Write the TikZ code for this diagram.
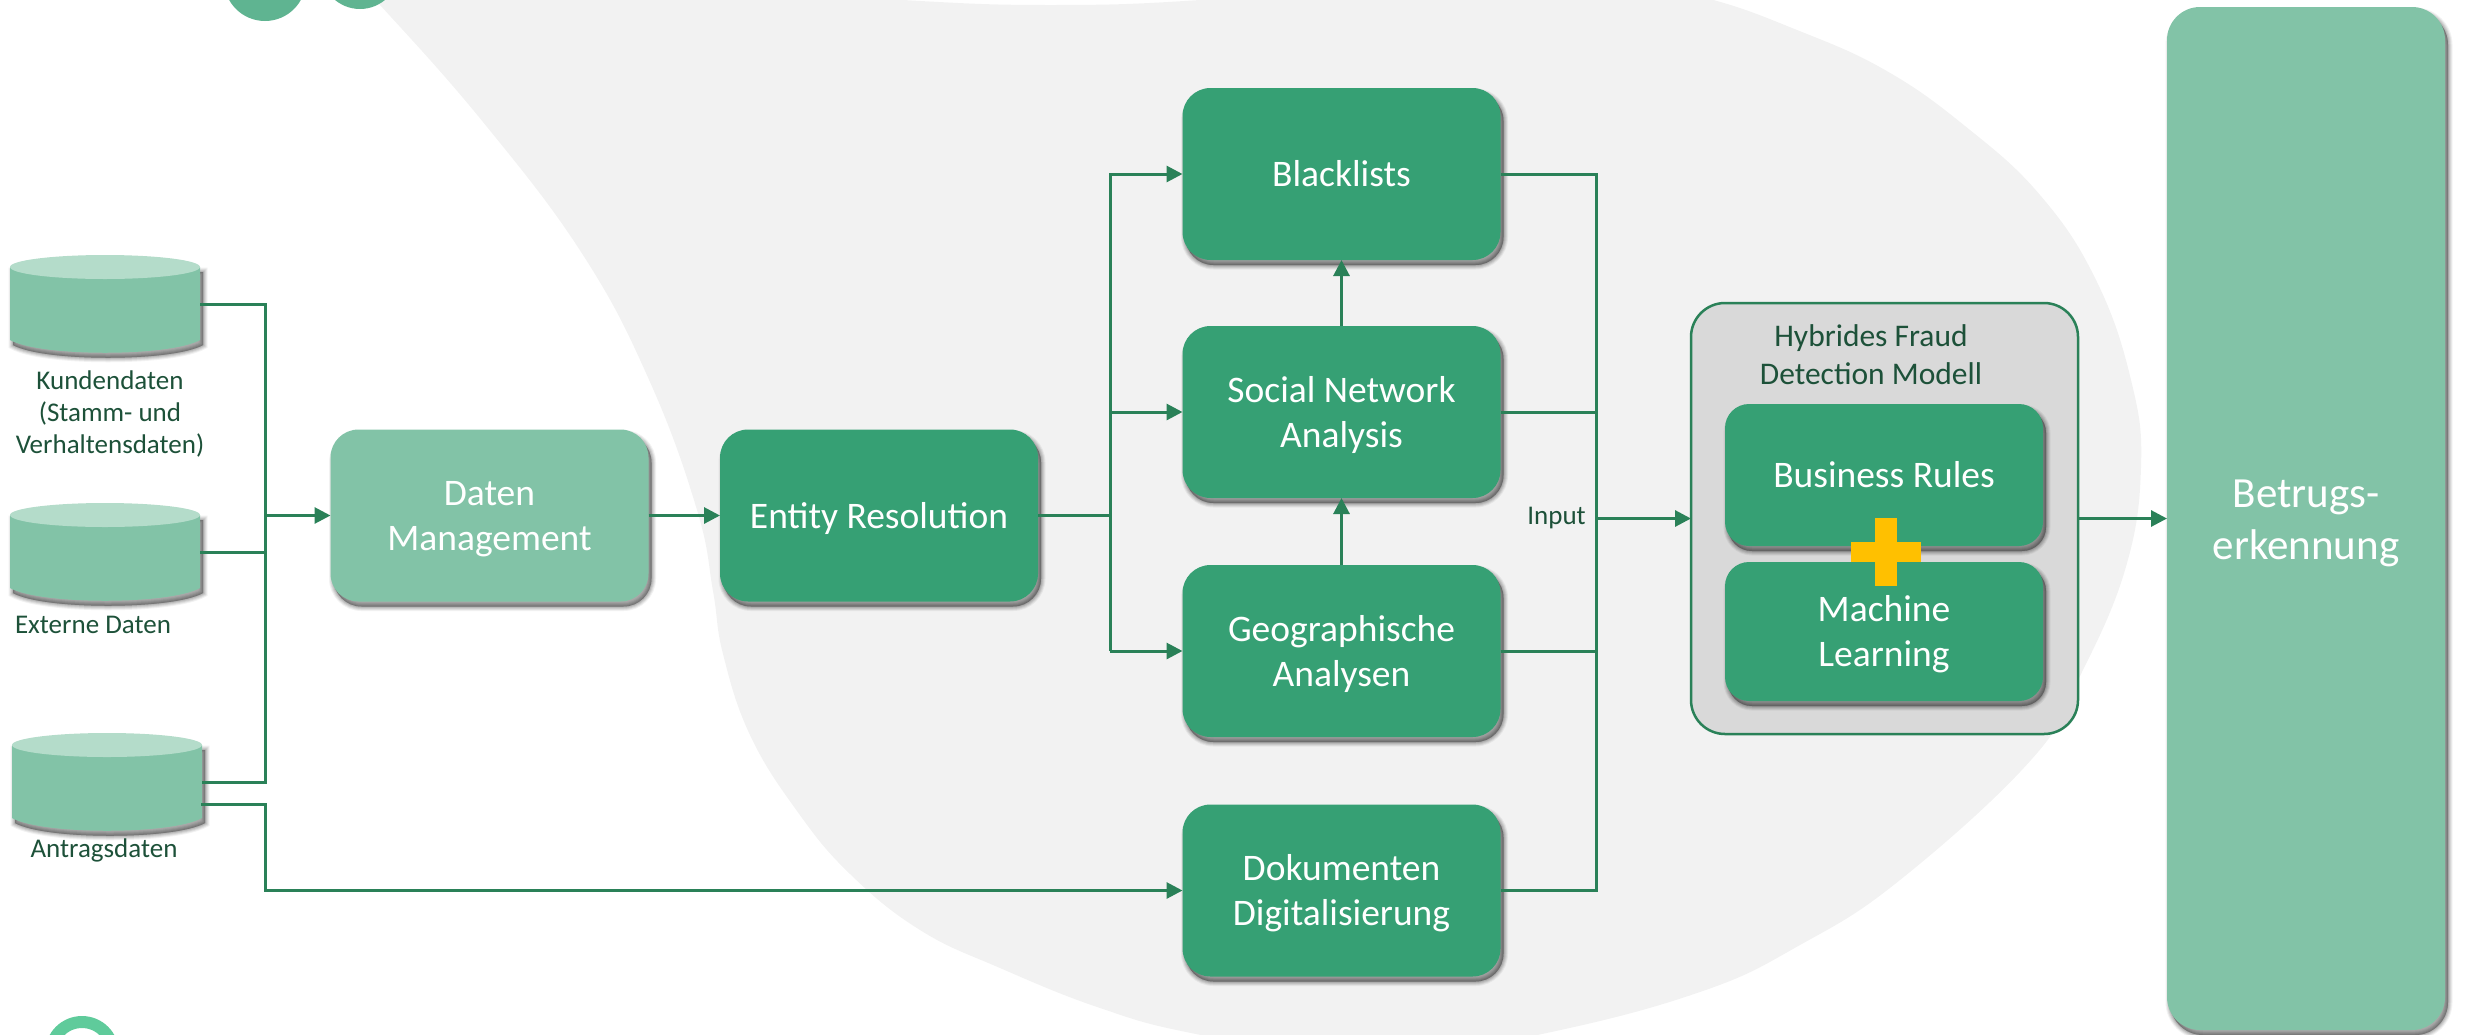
\documentclass[tikz,border=0pt]{standalone}
\usepackage{fontspec}
\setmainfont{Carlito}
\usetikzlibrary{arrows.meta,calc}
\definecolor{bluegrey}{HTML}{F2F2F2}
\definecolor{boxgreen}{HTML}{36A074}
\definecolor{lightgreen}{HTML}{82C3A7}
\definecolor{topgreen}{HTML}{B4DCCA}
\definecolor{linegreen}{HTML}{2A8158}
\definecolor{darktext}{HTML}{1D5139}
\definecolor{hybridgrey}{HTML}{D9D9D9}
\definecolor{plusyellow}{HTML}{FFC000}
\definecolor{circtop}{HTML}{5FB491}
\definecolor{circbot}{HTML}{5FCB9B}
\tikzset{
  x=1pt,y=-1pt,
  shlayer/.style 2 args={preaction={draw=black,fill=black,draw opacity=#2,fill opacity=#2,line width=#1,transform canvas={shift={(3pt,-5pt)}}}},
  softshadow/.style={shlayer={9pt}{.05},shlayer={7pt}{.07},shlayer={5pt}{.08},shlayer={3pt}{.09},shlayer={1pt}{.10}},
  darkbox/.style={softshadow,fill=boxgreen,rounded corners=28pt,minimum width=318pt,minimum height=172pt,inner sep=0pt,outer sep=0pt,align=center,text=white,font=\fontsize{37.5}{45}\selectfont,text height=25pt,text depth=0pt},
  twolines/.style={text height=70pt,text depth=0pt},
  lightbox/.style={darkbox,fill=lightgreen},
  innerbox/.style={darkbox,minimum width=318pt,rounded corners=24pt},
  lbl/.style={text=darktext,align=center,inner sep=0pt,font=\fontsize{27}{32}\selectfont},
  conn/.style={draw=linegreen,line width=3pt,line join=miter},
  arr/.style={conn,-{Triangle[length=16pt,width=16pt]}},
  dbanchor/.style={minimum width=190pt,minimum height=98pt,inner sep=0pt,outer sep=0pt},
  dbshade/.style={draw=black,fill=black,transform canvas={shift={(3pt,-5pt)}}}
}
\newcommand{\dbbody}[2]{(#1,#2+12) -- (#1,#2+85) .. controls (#1+30,#2+102) and (#1+160,#2+102) .. (#1+190,#2+85) -- (#1+190,#2+12) -- cycle}
\newcommand{\dblayer}[4]{\path[dbshade,draw opacity=#4,fill opacity=#4,line width=#3] \dbbody{#1}{#2};}
\newcommand{\dbdraw}[2]{% left x, top y
  \dblayer{#1}{#2}{9pt}{.05}\dblayer{#1}{#2}{7pt}{.07}\dblayer{#1}{#2}{5pt}{.08}\dblayer{#1}{#2}{3pt}{.09}\dblayer{#1}{#2}{1pt}{.10}
  \fill[lightgreen] \dbbody{#1}{#2};
  \fill[topgreen] (#1+95,#2+12) ellipse[x radius=95pt,y radius=12pt];
}
\begin{document}
\begin{tikzpicture}
\useasboundingbox (0,0) rectangle (2465,1034);
\begin{scope}
\clip (0,0) rectangle (2465,1034);
% background blob
\fill[bluegrey] plot[smooth,tension=.7] coordinates {
 (340,-35) (380,5) (483,122) (583,255) (650,382) (697,510) (713,591) (723,654) (750,735) (797,811)
 (850,874) (920,930) (1000,968) (1100,1008) (1196,1034) (1370,1062) (1542,1034) (1700,992) (1800,945) (1900,880)
 (2031,760) (2078,680) (2125,570) (2141,467) (2131,380) (2096,280) (2040,195) (1965,126) (1885,70) (1797,30) (1706,-2)
 (1600,-22) (1400,-18) (1200,0) (1050,5) (903,0) (700,-15) (340,-35)};
\fill[circtop] (265,-20) circle[radius=41pt];
\fill[circtop] (360,-30) circle[radius=39pt];
\draw[circbot,line width=12pt] (82,1053) circle[radius=31pt];
\end{scope}

% databases
\dbdraw{10}{255}
\dbdraw{10}{503}
\dbdraw{12}{733}
\node[dbanchor] (kd) at (105,304) {};
\node[dbanchor] (ext) at (105,552) {};
\node[dbanchor] (ad) at (107,782) {};
\node[lbl] (kdl) at (110,414) {Kundendaten\\(Stamm- und\\Verhaltensdaten)};
\node[lbl] (extl) at (93,625) {Externe Daten};
\node[lbl] (adl) at (104,850) {Antragsdaten};

% boxes
\node[lightbox,twolines] (dm) at (489.5,515.5) {Daten\\Management};
\node[darkbox] (er) at (879,515.5) {Entity Resolution};
\node[darkbox] (bl) at (1341.5,174) {Blacklists};
\node[darkbox,twolines] (sna) at (1341.5,412) {Social Network\\Analysis};
\node[darkbox,twolines] (geo) at (1341.5,651) {Geographische\\Analysen};
\node[darkbox,twolines] (dok) at (1341.5,890.5) {Dokumenten\\Digitalisierung};
\node[draw=linegreen,line width=2.5pt,fill=hybridgrey,rounded corners=34pt,minimum width=387pt,minimum height=431pt,inner sep=0pt,outer sep=0pt] (hy) at (1884.5,518.5) {};
\node[lbl,font=\fontsize{31.5}{37.7}\selectfont] (hyl) at (1871,355) {Hybrides Fraud\\Detection Modell};
\node[innerbox,minimum height=142pt] (br) at (1884,475) {Business Rules};
\node[innerbox,twolines,minimum height=139pt] (ml) at (1884,631.5) {Machine\\Learning};
\fill[plusyellow] (1875,518) rectangle (1897,586);
\fill[plusyellow] (1851,542) rectangle (1921,562);
\node[lightbox,minimum width=278pt,minimum height=1023pt,rounded corners=33pt,font=\fontsize{43}{52}\selectfont,text height=82pt] (bt) at (2306,518.5) {Betrugs-\\erkennung};
\node[lbl,font=\fontsize{27}{30}\selectfont,anchor=east] (inp) at (1586,518) {Input};

% junctions
\coordinate (jK) at (265,304);
\coordinate (jA) at (265,782);
\coordinate (adout) at (201,804);
\coordinate (dk) at (265,804);
\coordinate (jM) at (1110,515.5);
\coordinate (jR) at (1596,518.5);

% connectors
\draw[conn] (kd.east) -- (jK) -- (jA) -- (ad.east);
\draw[conn] (ext.east) -- (ext.east -| jK);
\draw[arr] (jK |- dm.west) -- (dm.west);
\draw[arr] (adout) -- (dk) -- (dk |- dok.west) -- (dok.west);
\draw[arr] (dm.east) -- (er.west);
\draw[conn] (er.east) -- (jM);
\draw[arr] (jM |- sna.west) -- (sna.west);
\draw[arr] (jM |- geo.west) -- (jM |- bl.west) -- (bl.west);
\draw[arr] (jM |- geo.west) -- (geo.west);
\draw[arr] (sna.north) -- (bl.south);
\draw[arr] (geo.north) -- (sna.south);
\draw[conn] (bl.east) -- (bl.east -| jR) -- (dok.east -| jR) -- (dok.east);
\draw[conn] (sna.east) -- (sna.east -| jR);
\draw[conn] (geo.east) -- (geo.east -| jR);
\draw[arr] (jR) -- (hy.west);
\draw[arr] (hy.east) -- (bt.west);
\end{tikzpicture}
\end{document}
